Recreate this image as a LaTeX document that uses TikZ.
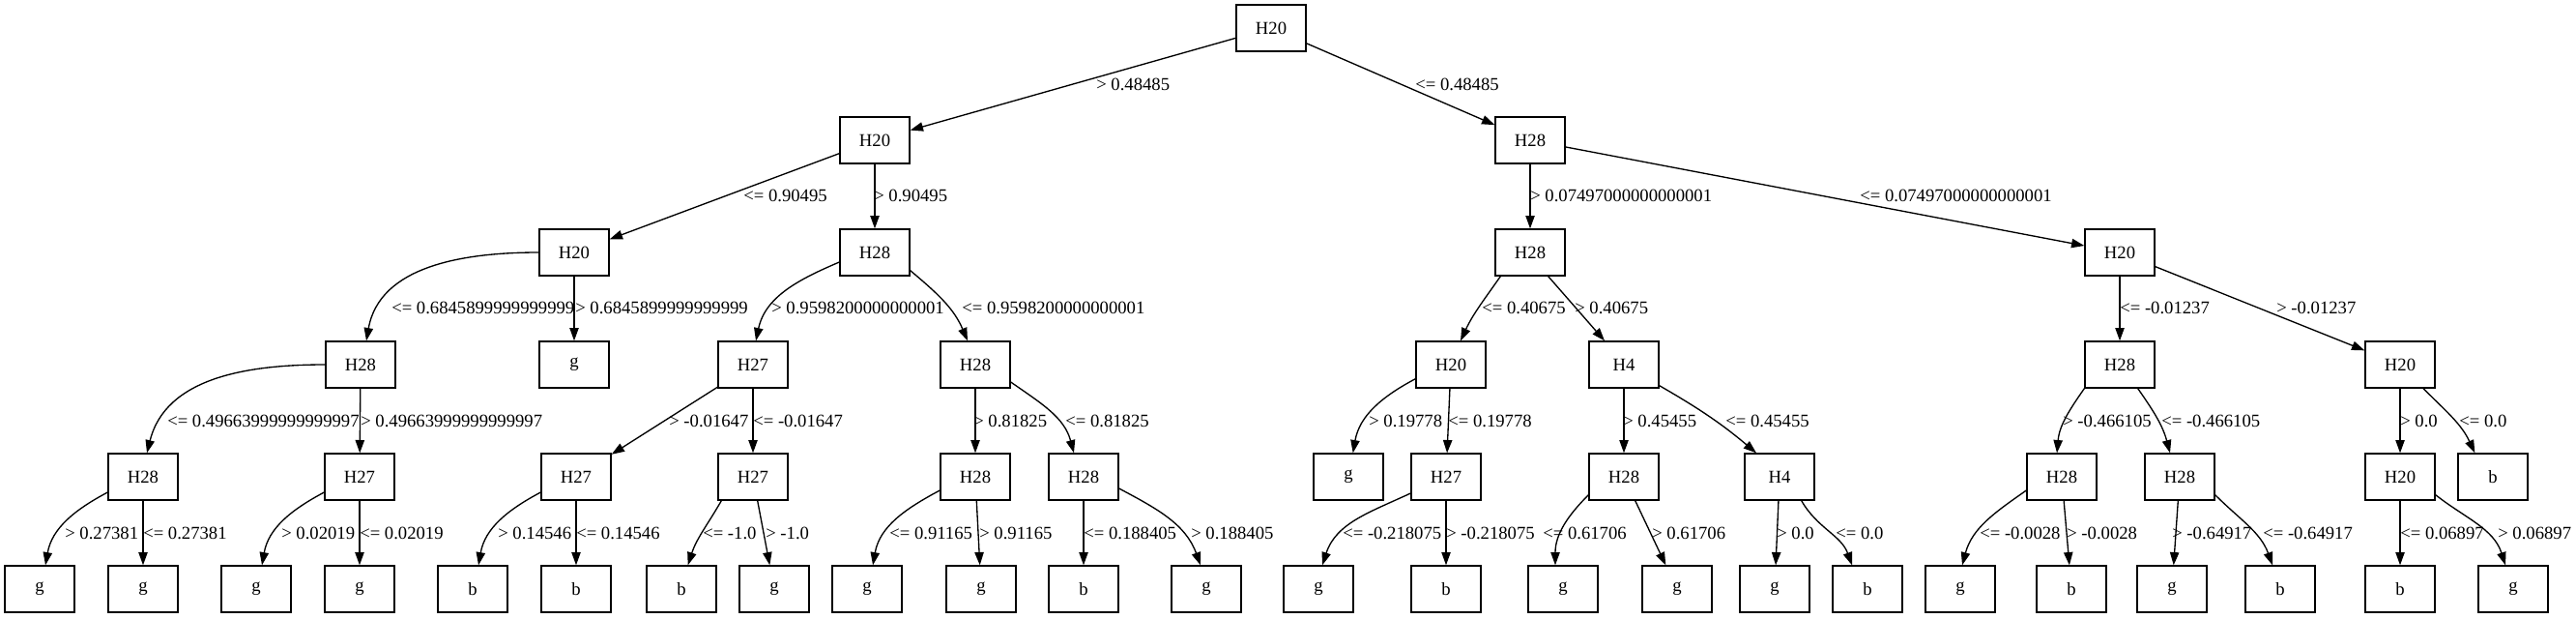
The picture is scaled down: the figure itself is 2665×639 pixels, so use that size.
\documentclass[tikz,border=0pt]{standalone}
\usepackage{fontspec}
\setmainfont{Liberation Serif}
\usetikzlibrary{arrows.meta}

\begin{document}
\begin{tikzpicture}[x=0.75pt,y=-0.75pt,
  box/.style={draw, line width=1pt, minimum width=54pt, minimum height=36pt, inner sep=0pt, font=\fontsize{14pt}{16pt}\selectfont},
  lbl/.style={anchor=west, inner sep=0pt, font=\fontsize{14pt}{16pt}\selectfont},
  edge/.style={line width=1pt, -{Triangle[length=10pt,width=7pt]}}]
        \useasboundingbox (0,0) rectangle (2665,639);
        %Nút trong
        \node[box] (root) at (1315,29) {H20};
        \node[box] (A) at (905,145) {H20};
        \node[box] (B) at (1583,145) {H28};
        \node[box] (C) at (594,261) {H20};
        \node[box] (D) at (905,261) {H28};
        \node[box] (N) at (1583,261) {H28};
        \node[box] (O) at (2193,261) {H20};
        \node[box] (E) at (373,377) {H28};
        \node[box] (H) at (779,377) {H27};
        \node[box] (I) at (1009,377) {H28};
        \node[box] (P) at (1501,377) {H20};
        \node[box] (Q) at (1680,377) {H4};
        \node[box] (U) at (2193,377) {H28};
        \node[box] (V) at (2483,377) {H20};
        \node[box] (F) at (148,493) {H28};
        \node[box] (G) at (372,493) {H27};
        \node[box] (J) at (596,493) {H27};
        \node[box] (K) at (779,493) {H27};
        \node[box] (L) at (1009,493) {H28};
        \node[box] (M) at (1121,493) {H28};
        \node[box] (R) at (1496,493) {H27};
        \node[box] (S) at (1680,493) {H28};
        \node[box] (T) at (1841,493) {H4};
        \node[box] (W) at (2133,493) {H28};
        \node[box] (X) at (2255,493) {H28};
        \node[box] (Y) at (2483,493) {H20};
        %Lá
        \node[box] (gC) at (594,377) {g};
        \node[box] (gP) at (1395,493) {g};
        \node[box] (bV) at (2579,493) {b};
        \node[box] (F1) at (41,609) {g};
        \node[box] (F2) at (148,609) {g};
        \node[box] (G1) at (265,609) {g};
        \node[box] (G2) at (372,609) {g};
        \node[box] (J1) at (489,609) {b};
        \node[box] (J2) at (596,609) {b};
        \node[box] (K1) at (705,609) {b};
        \node[box] (K2) at (801,609) {g};
        \node[box] (L1) at (897,609) {g};
        \node[box] (L2) at (1015,609) {g};
        \node[box] (M1) at (1121,609) {b};
        \node[box] (M2) at (1248,609) {g};
        \node[box] (R1) at (1364,609) {g};
        \node[box] (R2) at (1496,609) {b};
        \node[box] (S1) at (1617,609) {g};
        \node[box] (S2) at (1735,609) {g};
        \node[box] (T1) at (1836,609) {g};
        \node[box] (T2) at (1932,609) {b};
        \node[box] (W1) at (2028,609) {g};
        \node[box] (W2) at (2143,609) {b};
        \node[box] (X1) at (2247,609) {g};
        \node[box] (X2) at (2359,609) {b};
        \node[box] (Y1) at (2483,609) {b};
        \node[box] (Y2) at (2600,609) {g};
        %Nhánh
        \draw[edge] (root) -- (A);
        \draw[edge] (root) -- (B);
        \draw[edge] (A) -- (C);
        \draw[edge] (A) -- (D);
        \draw[edge] (B) -- (N);
        \draw[edge] (B) -- (O);
        \draw[edge] (C.west) to[out=180,in=80] ([xshift=4.5pt]E.north);
        \draw[edge] (C) -- (gC);
        \draw[edge] ([yshift=-7.5pt]D.west) to[out=203,in=78] ([xshift=2.25pt]H.north);
        \draw[edge] ([yshift=-14pt]D.east) to[out=-40,in=113] ([xshift=-6pt]I.north);
        \draw[edge] ([xshift=4.5pt]N.south west) to[out=-125,in=65] ([xshift=7.5pt]P.north);
        \draw[edge] ([xshift=14pt]N.south) -- ([xshift=-15pt]Q.north);
        \draw[edge] (O) -- (U);
        \draw[edge] (O) -- (V);
        \draw[edge] (E.west) to[out=180,in=76] ([xshift=3pt]F.north);
        \draw[edge] (E) -- (G);
        \draw[edge] (H) -- (J);
        \draw[edge] (H) -- (K);
        \draw[edge] (I) -- (L);
        \draw[edge] ([yshift=-13.5pt]I.east) to[out=-35,in=105] ([xshift=-7.5pt]M.north);
        \draw[edge] ([yshift=-11pt]P.west) to[out=208,in=80] ([xshift=3.5pt]gP.north);
        \draw[edge] (P) -- (R);
        \draw[edge] (Q) -- (S);
        \draw[edge] ([yshift=2.25pt]Q.south east) to[out=-30,in=140] ([xshift=-18pt]T.north);
        \draw[edge] (U.south west) to[out=-125,in=85] ([xshift=-3.75pt]W.north);
        \draw[edge] ([xshift=14pt]U.south) to[out=-55,in=105] ([xshift=-7.5pt]X.north);
        \draw[edge] (V) -- (Y);
        \draw[edge] ([xshift=18pt]V.south) to[out=-45,in=115] ([xshift=-14pt]bV.north);
        \draw[edge] ([yshift=-12pt]F.west) to[out=208,in=80] ([xshift=4.5pt]F1.north);
        \draw[edge] (F) -- (F2);
        \draw[edge] ([yshift=-12pt]G.west) to[out=208,in=80] ([xshift=4.5pt]G1.north);
        \draw[edge] (G) -- (G2);
        \draw[edge] ([yshift=-12pt]J.west) to[out=208,in=80] ([xshift=4.5pt]J1.north);
        \draw[edge] (J) -- (J2);
        \draw[edge] ([xshift=3pt]K.south west) to[out=-120,in=72] ([xshift=5pt]K1.north);
        \draw[edge] (K) -- (K2);
        \draw[edge] ([yshift=-10.5pt]L.west) to[out=208,in=80] ([xshift=4.5pt]L1.north);
        \draw[edge] (L) -- (L2);
        \draw[edge] (M) -- (M1);
        \draw[edge] ([yshift=-9pt]M.east) to[out=-28,in=110] ([xshift=-4.5pt]M2.north);
        \draw[edge] ([yshift=-12.75pt]R.west) to[out=205,in=72] ([xshift=3pt]R1.north);
        \draw[edge] (R) -- (R2);
        \draw[edge] ([yshift=-14pt]S.west) to[out=-135,in=90] ([xshift=-6pt]S1.north);
        \draw[edge] (S) -- (S2);
        \draw[edge] (T) -- (T1);
        \draw[edge] ([xshift=17pt]T.south) to[out=-60,in=110] ([xshift=-12pt]T2.north);
        \draw[edge] ([yshift=-10.5pt]W.west) to[out=-145,in=75] ([xshift=1.5pt]W1.north);
        \draw[edge] (W) -- (W2);
        \draw[edge] (X) -- (X1);
        \draw[edge] ([yshift=-14pt]X.east) to[out=-45,in=110] ([xshift=-6pt]X2.north);
        \draw[edge] (Y) -- (Y1);
        \draw[edge] ([yshift=-14pt]Y.east) to[out=-38,in=108] ([xshift=-6pt]Y2.north);
        %Nhãn
        \node[lbl] (lA) at (1134,87) {> 0.48485};
        \node[lbl] (lB) at (1464,87) {<= 0.48485};
        \node[lbl] (lC) at (769,202) {<= 0.90495};
        \node[lbl] (lD) at (904,202) {> 0.90495};
        \node[lbl] (lN) at (1583,202) {> 0.07497000000000001};
        \node[lbl] (lO) at (1924,202) {<= 0.07497000000000001};
        \node[lbl] (lE) at (405,318) {<= 0.6845899999999999};
        \node[lbl] (lgC) at (595,318) {> 0.6845899999999999};
        \node[lbl] (lH) at (798,318) {> 0.9598200000000001};
        \node[lbl] (lI) at (995,318) {<= 0.9598200000000001};
        \node[lbl] (lP) at (1533,318) {<= 0.40675};
        \node[lbl] (lQ) at (1629,318) {> 0.40675};
        \node[lbl] (lU) at (2193,318) {<= -0.01237};
        \node[lbl] (lV) at (2355,318) {> -0.01237};
        \node[lbl] (lF) at (173,435) {<= 0.49663999999999997};
        \node[lbl] (lG) at (373,435) {> 0.49663999999999997};
        \node[lbl] (lJ) at (692,435) {> -0.01647};
        \node[lbl] (lK) at (779,435) {<= -0.01647};
        \node[lbl] (lL) at (1007,435) {> 0.81825};
        \node[lbl] (lM) at (1102,435) {<= 0.81825};
        \node[lbl] (lgP) at (1416,435) {> 0.19778};
        \node[lbl] (lR) at (1498,435) {<= 0.19778};
        \node[lbl] (lS) at (1679,435) {> 0.45455};
        \node[lbl] (lT) at (1785,435) {<= 0.45455};
        \node[lbl] (lW) at (2134,435) {> -0.466105};
        \node[lbl] (lX) at (2236,435) {<= -0.466105};
        \node[lbl] (lY) at (2483,435) {> 0.0};
        \node[lbl] (lbV) at (2544,435) {<= 0.0};
        \node[lbl] (lF1) at (67,551) {> 0.27381};
        \node[lbl] (lF2) at (148,551) {<= 0.27381};
        \node[lbl] (lG1) at (291,551) {> 0.02019};
        \node[lbl] (lG2) at (372,551) {<= 0.02019};
        \node[lbl] (lJ1) at (515,551) {> 0.14546};
        \node[lbl] (lJ2) at (596,551) {<= 0.14546};
        \node[lbl] (lK1) at (727,551) {<= -1.0};
        \node[lbl] (lK2) at (792,551) {> -1.0};
        \node[lbl] (lL1) at (920,551) {<= 0.91165};
        \node[lbl] (lL2) at (1013,551) {> 0.91165};
        \node[lbl] (lM1) at (1121,551) {<= 0.188405};
        \node[lbl] (lM2) at (1232,551) {> 0.188405};
        \node[lbl] (lR1) at (1389,551) {<= -0.218075};
        \node[lbl] (lR2) at (1496,551) {> -0.218075};
        \node[lbl] (lS1) at (1596,551) {<= 0.61706};
        \node[lbl] (lS2) at (1709,551) {> 0.61706};
        \node[lbl] (lT1) at (1838,551) {> 0.0};
        \node[lbl] (lT2) at (1899,551) {<= 0.0};
        \node[lbl] (lW1) at (2048,551) {<= -0.0028};
        \node[lbl] (lW2) at (2138,551) {> -0.0028};
        \node[lbl] (lX1) at (2247,551) {> -0.64917};
        \node[lbl] (lX2) at (2341,551) {<= -0.64917};
        \node[lbl] (lY1) at (2483,551) {<= 0.06897};
        \node[lbl] (lY2) at (2584,551) {> 0.06897};
\end{tikzpicture}
\end{document}
